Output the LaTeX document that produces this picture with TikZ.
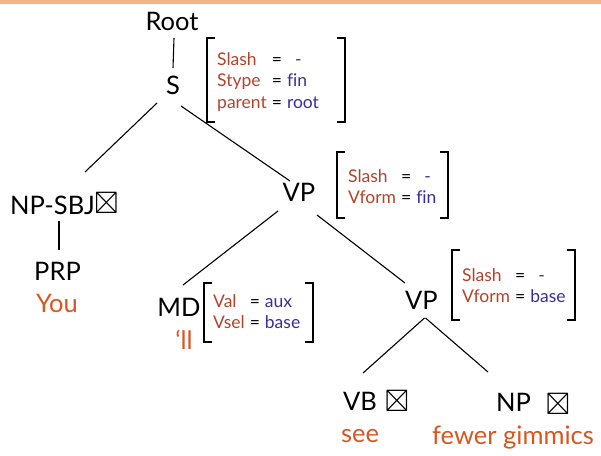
\documentclass[tikz,border=0pt]{standalone}
\usepackage{amssymb}
\usepackage{fontspec}
\setmainfont{Lato}[Ligatures=CommonOff]
\definecolor{attr}{HTML}{B4422A}
\definecolor{val}{HTML}{3A2C9C}
\definecolor{leaf}{HTML}{D9561F}
\definecolor{topbar}{HTML}{F2B584}
\tikzset{
  cat/.style={inner sep=0pt, font=\fontsize{25.5}{28}\selectfont},
  word/.style={inner sep=0pt, anchor=base, text=leaf, font=\fontsize{25.5}{28}\selectfont},
  feat/.style={inner sep=0pt, anchor=base west, font=\fontsize{17.5}{21.5}\selectfont},
  edge/.style={line width=1.1pt},
  brk/.style={line width=1.7pt},
  xbox/.style={inner sep=0pt, font=\fontsize{31}{32}\selectfont},
}
\newcommand{\A}[1]{\textcolor{attr}{#1}}
\newcommand{\V}[1]{\textcolor{val}{#1}}
\newcommand{\dash}{\hspace{8pt}\V{-}}
% feature matrix body: attribute, equals sign, value
\newenvironment{fmat}{\begin{tabular}[t]{@{}l@{\hspace{5pt}}l@{\hspace{5pt}}l@{}}}{\end{tabular}}
% square bracket pair around a feature matrix: \fbrk{left}{top}{right}{bottom}
\newcommand{\fbrk}[4]{%
  \draw[brk] (#1+8,#2) -- (#1,#2) -- (#1,#4) -- (#1+8,#4);
  \draw[brk] (#3-8,#2) -- (#3,#2) -- (#3,#4) -- (#3-8,#4);}
\begin{document}
\begin{tikzpicture}[x=1pt,y=-1pt]
\useasboundingbox (0,0) rectangle (601,455);
\fill[topbar] (0,0) rectangle (601,4);

% tree nodes
\node[cat] (root) at (172,21) {Root};
\node[cat] (s) at (173,85) {S};
\node[cat] (npsbj) at (52.5,205) {NP-SBJ};
\node[xbox] (bx1) at (106.5,203) {$\boxtimes$};
\node[cat] (prp) at (57.5,271) {PRP};
\node[word] (you) at (57,312) {You};
\node[cat] (vp1) at (299,192) {VP};
\node[cat] (md) at (179,307.5) {MD};
\node[word] (ll) at (184,349) {‘ll};
\node[cat] (vp2) at (421.5,300.5) {VP};
\node[cat] (vb) at (360,401.5) {VB};
\node[xbox] (bx2) at (397,401) {$\boxtimes$};
\node[word] (see) at (360,442) {see};
\node[cat] (np) at (513.5,402.5) {NP};
\node[xbox] (bx3) at (558,404.5) {$\boxtimes$};
\node[word] (fg) at (513,444) {fewer gimmics};

% feature matrices
\node[feat] (f1) at (217,65) {\begin{fmat}
  \A{Slash} & = & \dash\\ \A{Stype} & = & \V{fin}\\ \A{parent} & = & \V{root}
  \end{fmat}};
\fbrk{207}{38}{345}{122}
\node[feat] (f2) at (348,182) {\begin{fmat}
  \A{Slash} & = & \dash\\ \A{Vform} & = & \V{fin}
  \end{fmat}};
\fbrk{337}{152}{448}{218}
\node[feat] (f3) at (213,307) {\begin{fmat}
  \A{Val} & = & \V{aux}\\ \A{Vsel} & = & \V{base}
  \end{fmat}};
\fbrk{204}{283}{313}{342}
\node[feat] (f4) at (462,281) {\begin{fmat}
  \A{Slash} & = & \dash\\ \A{Vform} & = & \V{base}
  \end{fmat}};
\fbrk{452}{250}{575}{320}

% branches
\draw[edge] ([shift={(2,17)}]root.center) -- ([shift={(0,-17)}]s.center);
\draw[edge] ([shift={(-16,18)}]s.center) -- ([shift={(32.5,-33)}]npsbj.center);
\draw[edge] ([shift={(8,21)}]s.center) -- ([shift={(-9,-11)}]vp1.center);
\draw[edge] ([shift={(6.5,16)}]npsbj.center) -- ([shift={(1.5,-21)}]prp.center);
\draw[edge] ([shift={(-21,19)}]vp1.center) -- ([shift={(4,-22.5)}]md.center);
\draw[edge] ([shift={(18,23)}]vp1.center) -- ([shift={(-16.5,-17.5)}]vp2.center);
\draw[edge] ([shift={(3,17.5)}]vp2.center) -- ([shift={(3,-28.5)}]vb.center);
\draw[edge] ([shift={(4,17.5)}]vp2.center) -- ([shift={(-25.5,-30.5)}]np.center);
\end{tikzpicture}
\end{document}
